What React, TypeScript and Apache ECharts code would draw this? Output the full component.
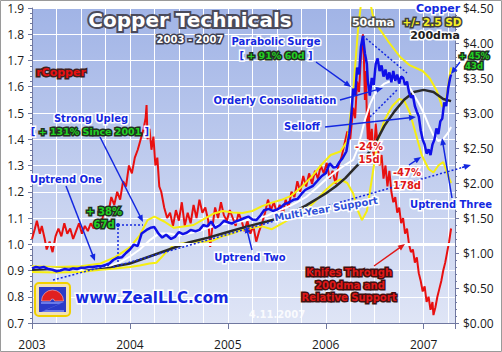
import React, { useEffect, useRef } from "react";
import * as echarts from "echarts";

// ---- DATA (t = decimal year) ----
const yearTicks = [2003, 2004, 2005, 2006, 2007];

const copperPrice: [number, number][] = [
  [2003.0, 0.78], [2003.04, 0.8], [2003.08, 0.79], [2003.12, 0.8], [2003.17, 0.77], [2003.21, 0.76],
  [2003.25, 0.74], [2003.29, 0.75], [2003.33, 0.77], [2003.38, 0.76], [2003.42, 0.78], [2003.46, 0.77],
  [2003.5, 0.79], [2003.54, 0.79], [2003.58, 0.8], [2003.62, 0.8], [2003.67, 0.81], [2003.71, 0.81],
  [2003.75, 0.83], [2003.79, 0.85], [2003.83, 0.9], [2003.87, 0.93], [2003.92, 0.94], [2003.96, 1.0],
  [2004.0, 1.05], [2004.04, 1.12], [2004.08, 1.1], [2004.12, 1.28], [2004.17, 1.33], [2004.21, 1.36],
  [2004.25, 1.37], [2004.29, 1.28], [2004.33, 1.22], [2004.37, 1.26], [2004.42, 1.2], [2004.46, 1.23],
  [2004.5, 1.3], [2004.54, 1.27], [2004.58, 1.29], [2004.62, 1.33], [2004.67, 1.31], [2004.71, 1.33],
  [2004.75, 1.4], [2004.79, 1.38], [2004.83, 1.45], [2004.87, 1.36], [2004.92, 1.4], [2004.96, 1.46],
  [2005.0, 1.44], [2005.04, 1.42], [2005.08, 1.45], [2005.12, 1.47], [2005.17, 1.5], [2005.21, 1.52],
  [2005.25, 1.48], [2005.29, 1.47], [2005.33, 1.53], [2005.37, 1.61], [2005.42, 1.63], [2005.46, 1.6],
  [2005.5, 1.62], [2005.54, 1.65], [2005.58, 1.7], [2005.62, 1.72], [2005.67, 1.76], [2005.71, 1.77],
  [2005.75, 1.84], [2005.79, 1.9], [2005.83, 1.93], [2005.87, 1.96], [2005.92, 2.04], [2005.96, 2.1],
  [2006.0, 2.14], [2006.04, 2.28], [2006.08, 2.22], [2006.11, 2.23], [2006.14, 2.3], [2006.17, 2.35],
  [2006.21, 2.45], [2006.24, 2.7], [2006.26, 2.95], [2006.28, 3.35], [2006.3, 3.25], [2006.32, 3.65],
  [2006.34, 3.55], [2006.36, 3.95], [2006.38, 4.1], [2006.4, 3.85], [2006.42, 3.7], [2006.43, 3.45],
  [2006.45, 3.25], [2006.47, 3.5], [2006.49, 3.4], [2006.51, 3.7], [2006.53, 3.78], [2006.55, 3.6],
  [2006.57, 3.68], [2006.59, 3.52], [2006.61, 3.62], [2006.63, 3.48], [2006.65, 3.58], [2006.67, 3.44],
  [2006.69, 3.6], [2006.71, 3.46], [2006.73, 3.55], [2006.75, 3.42], [2006.77, 3.52], [2006.79, 3.5],
  [2006.81, 3.4], [2006.83, 3.45], [2006.85, 3.3], [2006.87, 3.22], [2006.89, 3.25], [2006.91, 3.1],
  [2006.93, 3.02], [2006.95, 2.95], [2006.97, 2.75], [2006.99, 2.62], [2007.01, 2.55], [2007.03, 2.42],
  [2007.05, 2.48], [2007.07, 2.4], [2007.09, 2.55], [2007.11, 2.62], [2007.13, 2.78], [2007.15, 2.7],
  [2007.17, 2.88], [2007.19, 2.92], [2007.21, 3.15], [2007.23, 3.1], [2007.25, 3.35], [2007.27, 3.5],
  [2007.28, 3.55],
];

const rCopper: [number, number][] = [
  [2003.0, 1.02], [2003.03, 1.06], [2003.05, 1.09], [2003.08, 1.04], [2003.1, 1.07], [2003.13, 1.02],
  [2003.15, 0.98], [2003.18, 1.01], [2003.21, 0.97], [2003.24, 1.03], [2003.27, 1.06], [2003.3, 1.03],
  [2003.33, 1.08], [2003.36, 1.04], [2003.39, 1.06], [2003.42, 1.02], [2003.45, 1.05], [2003.48, 1.08],
  [2003.51, 1.04], [2003.54, 1.07], [2003.57, 1.05], [2003.6, 1.08], [2003.63, 1.06], [2003.66, 1.09],
  [2003.69, 1.07], [2003.72, 1.1], [2003.75, 1.14], [2003.78, 1.12], [2003.81, 1.18], [2003.84, 1.15],
  [2003.87, 1.2], [2003.9, 1.17], [2003.93, 1.24], [2003.96, 1.22], [2003.99, 1.3], [2004.02, 1.27],
  [2004.05, 1.33], [2004.08, 1.36], [2004.11, 1.4], [2004.14, 1.44], [2004.16, 1.48], [2004.17, 1.53],
  [2004.18, 1.4], [2004.2, 1.44], [2004.22, 1.36], [2004.24, 1.41], [2004.26, 1.3], [2004.28, 1.33],
  [2004.3, 1.22], [2004.32, 1.2], [2004.35, 1.14], [2004.38, 1.1], [2004.41, 1.12], [2004.44, 1.07],
  [2004.47, 1.13], [2004.5, 1.09], [2004.53, 1.16], [2004.56, 1.07], [2004.59, 1.12], [2004.62, 1.08],
  [2004.65, 1.15], [2004.68, 1.1], [2004.71, 1.17], [2004.74, 1.12], [2004.77, 1.14], [2004.8, 1.09],
  [2004.82, 0.99], [2004.84, 1.06], [2004.87, 1.14], [2004.9, 1.1], [2004.93, 1.16], [2004.96, 1.11],
  [2004.99, 1.09], [2005.02, 1.13], [2005.05, 1.1], [2005.08, 1.07], [2005.11, 1.12], [2005.14, 1.09],
  [2005.17, 1.05], [2005.2, 1.09], [2005.23, 1.04], [2005.26, 1.07], [2005.29, 1.01], [2005.32, 1.05],
  [2005.35, 1.08], [2005.38, 1.12], [2005.41, 1.17], [2005.44, 1.13], [2005.47, 1.16], [2005.5, 1.12],
  [2005.53, 1.15], [2005.56, 1.11], [2005.59, 1.17], [2005.62, 1.14], [2005.65, 1.2], [2005.68, 1.18],
  [2005.71, 1.24], [2005.74, 1.2], [2005.77, 1.26], [2005.8, 1.22], [2005.83, 1.27], [2005.86, 1.23],
  [2005.89, 1.28], [2005.92, 1.25], [2005.95, 1.3], [2005.98, 1.27], [2006.01, 1.31], [2006.04, 1.25],
  [2006.07, 1.28], [2006.1, 1.23], [2006.13, 1.3], [2006.16, 1.33], [2006.19, 1.38], [2006.22, 1.43],
  [2006.25, 1.4], [2006.28, 1.52], [2006.3, 1.48], [2006.32, 1.62], [2006.34, 1.58], [2006.36, 1.72],
  [2006.38, 1.8], [2006.39, 1.7], [2006.4, 1.55], [2006.41, 1.66], [2006.42, 1.48], [2006.43, 1.4],
  [2006.44, 1.52], [2006.45, 1.36], [2006.47, 1.44], [2006.49, 1.32], [2006.51, 1.46], [2006.53, 1.38],
  [2006.55, 1.3], [2006.57, 1.34], [2006.59, 1.25], [2006.61, 1.3], [2006.63, 1.22], [2006.65, 1.28],
  [2006.67, 1.2], [2006.69, 1.16], [2006.71, 1.18], [2006.73, 1.12], [2006.75, 1.14], [2006.77, 1.08],
  [2006.79, 1.1], [2006.81, 1.04], [2006.83, 1.06], [2006.85, 1.0], [2006.87, 0.97], [2006.89, 0.98],
  [2006.91, 0.93], [2006.93, 0.95], [2006.95, 0.89], [2006.97, 0.86], [2006.99, 0.82], [2007.01, 0.84],
  [2007.03, 0.78], [2007.05, 0.8], [2007.07, 0.75], [2007.09, 0.78], [2007.1, 0.73], [2007.12, 0.76],
  [2007.14, 0.8], [2007.16, 0.83], [2007.18, 0.86], [2007.2, 0.9], [2007.22, 0.93], [2007.24, 0.97],
  [2007.26, 1.01], [2007.28, 1.06],
];

const dma50: [number, number][] = [
  [2003.0, 0.79], [2003.1, 0.79], [2003.2, 0.78], [2003.3, 0.77], [2003.4, 0.77], [2003.5, 0.77],
  [2003.6, 0.79], [2003.7, 0.8], [2003.8, 0.82], [2003.9, 0.87], [2004.0, 0.95], [2004.1, 1.05],
  [2004.2, 1.18], [2004.3, 1.28], [2004.4, 1.28], [2004.5, 1.25], [2004.6, 1.28], [2004.7, 1.31],
  [2004.8, 1.36], [2004.9, 1.4], [2005.0, 1.42], [2005.1, 1.44], [2005.2, 1.47], [2005.3, 1.5],
  [2005.4, 1.53], [2005.5, 1.6], [2005.6, 1.65], [2005.7, 1.72], [2005.8, 1.8], [2005.9, 1.92],
  [2006.0, 2.05], [2006.1, 2.16], [2006.2, 2.26], [2006.28, 2.33], [2006.32, 2.47], [2006.36, 2.68],
  [2006.4, 2.9], [2006.45, 3.12], [2006.5, 3.27], [2006.55, 3.36], [2006.6, 3.42], [2006.65, 3.45],
  [2006.7, 3.47], [2006.75, 3.48], [2006.8, 3.46], [2006.85, 3.38], [2006.9, 3.26], [2006.95, 3.14],
  [2007.0, 3.0], [2007.05, 2.83], [2007.1, 2.68], [2007.15, 2.6], [2007.2, 2.63], [2007.25, 2.72],
  [2007.28, 2.8],
];

const dma200: [number, number][] = [
  [2003.0, 0.76], [2003.2, 0.77], [2003.4, 0.77], [2003.6, 0.78], [2003.8, 0.8], [2004.0, 0.85],
  [2004.2, 0.95], [2004.4, 1.05], [2004.6, 1.15], [2004.8, 1.22], [2005.0, 1.3], [2005.2, 1.38],
  [2005.4, 1.45], [2005.6, 1.53], [2005.8, 1.68], [2006.0, 1.85], [2006.1, 1.95], [2006.2, 2.07],
  [2006.3, 2.22], [2006.4, 2.36], [2006.5, 2.55], [2006.6, 2.82], [2006.7, 3.02], [2006.8, 3.19],
  [2006.9, 3.3], [2007.0, 3.33], [2007.1, 3.3], [2007.2, 3.2], [2007.28, 3.17],
];

const upperBand: [number, number][] = [
  [2003.0, 0.81], [2003.25, 0.8], [2003.5, 0.81], [2003.7, 0.85], [2003.85, 0.94], [2004.0, 1.08],
  [2004.1, 1.25], [2004.18, 1.47], [2004.25, 1.52], [2004.35, 1.45], [2004.45, 1.36], [2004.55, 1.38],
  [2004.65, 1.4], [2004.75, 1.48], [2004.85, 1.56], [2004.95, 1.6], [2005.05, 1.58], [2005.15, 1.57],
  [2005.25, 1.6], [2005.35, 1.67], [2005.45, 1.72], [2005.55, 1.76], [2005.65, 1.82], [2005.75, 1.94],
  [2005.85, 2.08], [2005.95, 2.25], [2006.05, 2.4], [2006.15, 2.45], [2006.22, 2.6], [2006.28, 3.3],
  [2006.33, 4.2], [2006.38, 4.8], [2006.43, 4.75], [2006.48, 4.4], [2006.55, 4.2], [2006.65, 4.0],
  [2006.76, 3.8], [2006.86, 3.68], [2006.99, 3.6], [2007.06, 3.5], [2007.13, 3.33], [2007.19, 3.09],
  [2007.22, 3.12], [2007.25, 3.4], [2007.28, 3.65],
];

const lowerBand: [number, number][] = [
  [2003.0, 0.73], [2003.25, 0.72], [2003.5, 0.73], [2003.7, 0.76], [2003.85, 0.78], [2004.0, 0.8],
  [2004.1, 0.82], [2004.2, 0.85], [2004.27, 0.86], [2004.35, 0.98], [2004.45, 1.12], [2004.55, 1.14],
  [2004.65, 1.16], [2004.75, 1.16], [2004.85, 1.18], [2004.95, 1.24], [2005.05, 1.28], [2005.15, 1.33],
  [2005.25, 1.36], [2005.35, 1.38], [2005.45, 1.34], [2005.55, 1.42], [2005.65, 1.5], [2005.75, 1.55],
  [2005.9, 1.75], [2006.0, 1.9], [2006.08, 2.0], [2006.15, 2.05], [2006.22, 2.0], [2006.28, 1.85],
  [2006.33, 1.6], [2006.37, 1.47], [2006.42, 1.6], [2006.47, 2.05], [2006.53, 2.6], [2006.6, 2.9],
  [2006.68, 3.1], [2006.75, 3.2], [2006.8, 3.18], [2006.86, 3.0], [2006.92, 2.7], [2006.98, 2.4],
  [2007.05, 2.2], [2007.1, 2.15], [2007.15, 2.25], [2007.2, 2.3], [2007.25, 2.1], [2007.28, 2.0],
];

// ---- helpers for annotations ----
const FONT = '"DejaVu Sans"';
function label(text: string, x: number, y: number, fill: string, stroke: string, size: number, extra: any = {}) {
  return {
    type: "text", x, y, z: 110, ...extra,
    style: {
      text, fill, stroke, lineWidth: 3, strokeFirst: true,
      font: `bold ${size}px ${FONT}`, align: "center", verticalAlign: "middle",
      ...(extra.style || {}),
    },
  };
}
function arrow(x1: number, y1: number, x2: number, y2: number, color = "#1428e0", w = 1.5, h = 7) {
  const a = Math.atan2(y2 - y1, x2 - x1);
  const c = Math.cos(a), s = Math.sin(a);
  const bx = x2 - h * c, by = y2 - h * s;
  return [
    { type: "line", z: 105, shape: { x1, y1, x2: x2 - h * 0.6 * c, y2: y2 - h * 0.6 * s }, style: { stroke: color, lineWidth: w } },
    { type: "polygon", z: 105, shape: { points: [[x2, y2], [bx + h * 0.42 * s, by - h * 0.42 * c], [bx - h * 0.42 * s, by + h * 0.42 * c]] }, style: { fill: color } },
  ];
}
function dotted(x1: number, y1: number, x2: number, y2: number, color = "#1428e0") {
  return { type: "line", z: 104, shape: { x1, y1, x2, y2 }, style: { stroke: color, lineWidth: 1.5, lineDash: [2, 2] } };
}

const BLUE = "#1428e0";
const GREEN = "#22d022";

export default function App() {
  const ref = useRef<HTMLDivElement>(null);
  useEffect(() => {
    if (!ref.current) return;
    const chart = echarts.init(ref.current, null, { renderer: "svg" });
    const lineS = (name: string, data: any, color: string, width: number, yIdx: number, z = 2) => ({
      name, type: "line", data, xAxisIndex: 0, yAxisIndex: yIdx, showSymbol: false, symbol: "none",
      z, lineStyle: { color, width }, itemStyle: { color }, silent: true,
    });
    const graphics: any[] = [
      { type: "rect", z: 120, shape: { x: 0.5, y: 0.5, width: 501, height: 351 }, style: { fill: "none", stroke: "#9a9a9a", lineWidth: 1 } },
      // title
      label("Copper Technicals", 190, 20, "#ffffff", "#4a4a5a", 20, { style: { lineWidth: 4, shadowBlur: 2, shadowColor: "rgba(0,0,0,0.5)", shadowOffsetX: 1, shadowOffsetY: 1 } }),
      label("2003 - 2007", 190, 39, "#ffffff", "#404050", 10),
      label("Copper", 438, 8, BLUE, "#ffffff", 11),
      label("50dma", 373, 22, "#ffffff", "#505050", 11),
      label("+/- 2.5 SD", 432, 22, "#f8f020", "#404040", 10.5),
      label("200dma", 435, 35, "#202020", "#ffffff", 11),
      label("Parabolic Surge", 276, 41, BLUE, "#ffffff", 10),
      {
        type: "text", x: 276, y: 55, z: 110,
        style: {
          text: "{b|[}{g| + 91% 60d }{b|]}", align: "center", verticalAlign: "middle",
          rich: {
            b: { fill: BLUE, stroke: "#ffffff", lineWidth: 3, font: `bold 10px ${FONT}` },
            g: { fill: GREEN, stroke: "#203020", lineWidth: 3, font: `bold 9.5px ${FONT}` },
          },
        },
      },
      label("rCopper", 61, 72, "#e81010", "#402020", 11),
      label("Orderly Consolidation", 275, 100, BLUE, "#ffffff", 10),
      label("Strong Upleg", 91, 118, BLUE, "#ffffff", 10),
      {
        type: "text", x: 90, y: 131, z: 110,
        style: {
          text: "{b|[}{g| + 131% Since 2001 }{b|]}", align: "center", verticalAlign: "middle",
          rich: {
            b: { fill: BLUE, stroke: "#ffffff", lineWidth: 3, font: `bold 10px ${FONT}` },
            g: { fill: GREEN, stroke: "#203020", lineWidth: 3, font: `bold 9.5px ${FONT}` },
          },
        },
      },
      label("Selloff", 302, 126, BLUE, "#ffffff", 10),
      label("Uptrend One", 66, 179, BLUE, "#ffffff", 10),
      label("+ 38%", 104, 211, GREEN, "#203020", 10),
      label("67d", 104, 224, GREEN, "#203020", 10),
      label("-24%", 369, 146, "#e01818", "#ffffff", 10),
      label("15d", 369, 159, "#e01818", "#ffffff", 10),
      label("-47%", 407, 172, "#e01818", "#ffffff", 10),
      label("178d", 407, 185, "#e01818", "#ffffff", 10),
      label("Multi-Year Support", 326, 209, "#3050d8", "#ffffff", 10, { rotation: 0.17 }),
      label("Uptrend Two", 250, 257, BLUE, "#ffffff", 10),
      label("Uptrend Three", 451, 204, BLUE, "#ffffff", 10),
      label("+ 45%", 474, 55.5, GREEN, "#203020", 8.5),
      label("43d", 474, 65.5, GREEN, "#203020", 8.5),
      label("Knifes Through", 349, 272, "#e01818", "#401010", 10),
      label("200dma and", 350, 285, "#e01818", "#401010", 10),
      label("Relative Support", 349, 297, "#e01818", "#401010", 10),
      label("www.ZealLLC.com", 152, 298, BLUE, "#ffffff", 15),
      { type: "text", x: 277, y: 314, z: 110, style: { text: "4.11.2007", fill: "rgba(255,255,255,0.85)", font: `bold 10px ${FONT}`, align: "center", verticalAlign: "middle" } },
      // logo
      {
        type: "group", x: 35, y: 283, z: 110,
        children: [
          { type: "rect", z: 110, shape: { x: 0, y: 0, width: 35, height: 33, r: 4 }, style: { fill: "#f3e2b0", stroke: "#f0d000", lineWidth: 2 } },
          { type: "rect", z: 111, shape: { x: 4, y: 4, width: 27, height: 25 }, style: { fill: "#2a3ac8" } },
          { type: "polygon", z: 112, shape: { points: [[6, 19], [29, 19], [10, 27], [29, 27], [29, 29], [6, 29], [25, 21], [6, 21]] }, style: { fill: "#6a7ae8" } },
          { type: "sector", z: 113, shape: { cx: 17.5, cy: 18, r: 11, r0: 2, startAngle: Math.PI, endAngle: Math.PI * 2 }, style: { fill: "#e02020", stroke: "#f8c0c0", lineWidth: 0.6 } },
        ],
      },
      // arrows
      ...arrow(100, 137, 143, 222),
      ...arrow(66, 186, 95, 261),
      ...arrow(316, 62, 351, 87),
      ...arrow(340, 100, 383, 88),
      ...arrow(325, 127, 416, 117),
      ...arrow(252, 250, 246, 226),
      ...arrow(452, 198, 442, 138),
      ...arrow(460, 62, 451, 74),
      ...arrow(409, 165, 421, 157),
      ...arrow(374, 266, 405, 244, "#e01818"),
      // dotted trend lines
      dotted(53, 280, 110, 265),
      dotted(113, 267, 464, 167),
      ...arrow(462, 167.5, 471, 165, BLUE, 1.5, 7),
      dotted(118, 262, 118, 225),
      dotted(118, 225, 143, 225),
      { type: "circle", z: 105, shape: { cx: 118, cy: 225, r: 2 }, style: { fill: BLUE } },
      dotted(363, 36, 407, 73),
      dotted(370, 117, 397, 90),
    ];

    chart.setOption({
      animation: false,
      backgroundColor: "#ffffff",
      grid: {
        left: 32, right: 47, top: 8, bottom: 29, show: true, borderWidth: 0,
        backgroundColor: new echarts.graphic.LinearGradient(0, 0, 0, 1, [
          { offset: 0, color: "#a1b4e6" },
          { offset: 0.55, color: "#c3cfef" },
          { offset: 1, color: "#dfe5f6" },
        ]),
      },
      xAxis: [
        {
          type: "value", min: 2003, max: 2007.32, interval: 1, position: "bottom",
          axisLine: { lineStyle: { color: "#7078a0", width: 1 } },
          axisTick: { show: true, length: 6, lineStyle: { color: "#7078a0" } },
          axisLabel: {
            margin: 15, color: "#1a1a1a", fontSize: 12, fontFamily: "Open Sans",
            formatter: (v: number) => (yearTicks.includes(Math.round(v * 1000) / 1000) ? String(v) : ""),
          },
          splitLine: { show: false },
        },
        {
          type: "value", min: 2003, max: 2007.32, interval: 0.25, position: "bottom",
          axisLine: { show: false }, axisTick: { show: false }, axisLabel: { show: false },
          splitLine: { show: true, lineStyle: { color: "#ffffff", width: 1 } },
        },
      ],
      yAxis: [
        {
          type: "value", min: 0.7, max: 1.9, interval: 0.1, position: "left",
          axisLine: { show: true, lineStyle: { color: "#7078a0" } },
          axisTick: { show: true, length: 4, lineStyle: { color: "#7078a0" } },
          minorTick: { show: true, splitNumber: 5, length: 2, lineStyle: { color: "#7078a0" } },
          axisLabel: { margin: 8, color: "#1a1a1a", fontSize: 12, fontFamily: "Open Sans", formatter: (v: number) => v.toFixed(1) },
          splitLine: { show: true, lineStyle: { color: "#ffffff", width: 1 } },
        },
        {
          type: "value", min: 0, max: 4.5, interval: 0.5, position: "right",
          axisLine: { show: true, lineStyle: { color: "#7078a0" } },
          axisTick: { show: true, length: 4, lineStyle: { color: "#7078a0" } },
          minorTick: { show: true, splitNumber: 5, length: 2, lineStyle: { color: "#7078a0" } },
          axisLabel: { margin: 8, color: "#1a1a1a", fontSize: 12, fontFamily: "Open Sans", formatter: (v: number) => "$" + v.toFixed(2) },
          splitLine: { show: false },
        },
      ],
      series: [
        {
          type: "line", data: [], xAxisIndex: 0, yAxisIndex: 0, silent: true, z: 1,
          markLine: {
            silent: true, symbol: "none", label: { show: false },
            lineStyle: { color: "#ffffff", width: 3, type: "solid" },
            data: [{ yAxis: 1.0 }],
          },
        },
        lineS("rCopper", rCopper, "#e81010", 2, 0, 2),
        lineS("Upper Band", upperBand, "#f6ee10", 2, 1, 3),
        lineS("Lower Band", lowerBand, "#f6ee10", 2, 1, 3),
        lineS("200dma", dma200, "#2a2a2a", 2.5, 1, 4),
        lineS("50dma", dma50, "#ffffff", 2, 1, 5),
        lineS("Copper", copperPrice, "#1010e8", 2.5, 1, 6),
      ],
      graphic: { elements: graphics },
    });
    return () => chart.dispose();
  }, []);
  return <div ref={ref} style={{ position: "absolute", left: 0, top: 0, width: 502, height: 352 }} />;
}
